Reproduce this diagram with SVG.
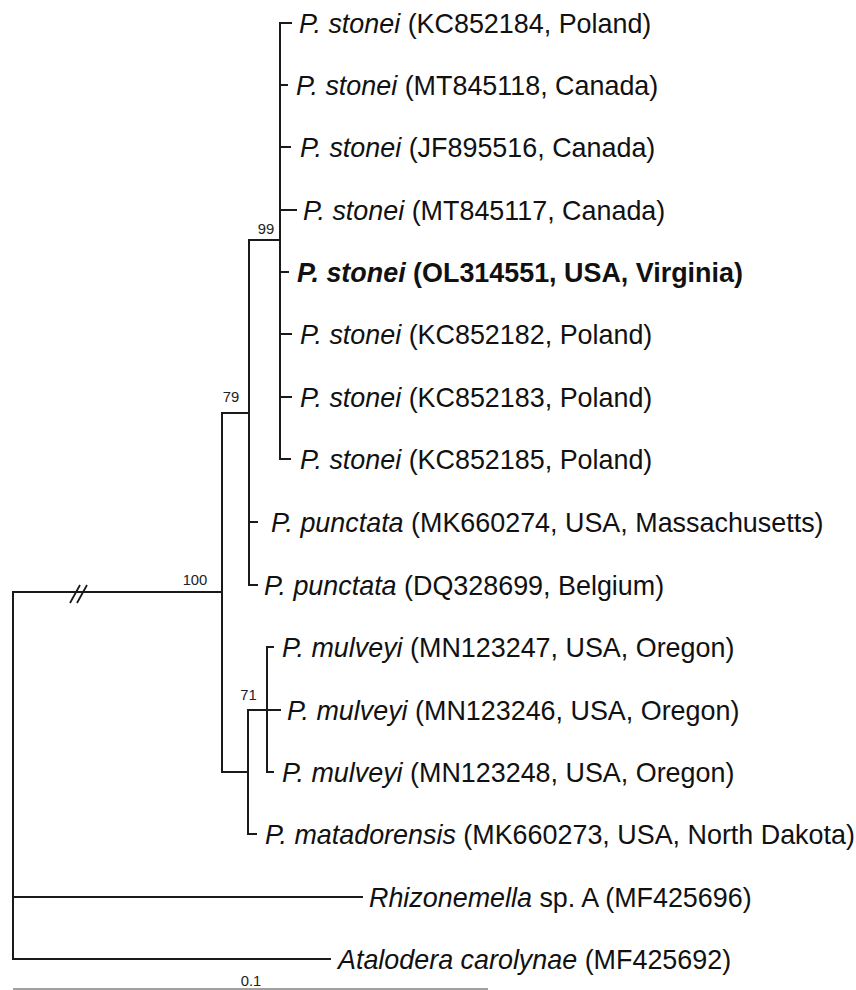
<svg xmlns="http://www.w3.org/2000/svg" width="856" height="990" viewBox="0 0 856 990">
<style>
.t{font-family:"Liberation Sans",Arial,sans-serif;font-size:26.9px;fill:#111}
.b{font-weight:bold}
.i{font-style:italic}
.s{font-family:"Liberation Sans",Arial,sans-serif;font-size:14.8px;fill:#222;text-anchor:middle}
.l{fill:none;stroke:#1a1a1a;stroke-width:2;stroke-linecap:square}
</style>
<rect width="856" height="990" fill="#fff"/>
<g id="connectors" class="l">
<path d="M291,23H280V459H290"/>
<path d="M280,85H287M280,147H290M280,210H296M280,272H288M280,334H291M280,397H291"/>
<path d="M249,240H280"/>
<path d="M257,522H249M249,240V585H257"/>
<path d="M222,413H249"/>
<path d="M273,647H267V772H273M248,710H280"/>
<path d="M248,710V834H256"/>
<path d="M222,772H248"/>
<path d="M222,413V772"/>
<path d="M13,592H222"/>
<path d="M13,592V959H330M13,897H362"/>
<path d="M70,603L80,585M77,603L87,585" stroke-linecap="butt" stroke-width="1.8"/>
<path d="M13,989H488" stroke-width="1.2" stroke="#444" stroke-linecap="butt"/>
</g>
<g id="leaf1"><text class="t" x="299" y="32.5"><tspan class="i">P. stonei</tspan> (KC852184, Poland)</text></g>
<g id="leaf2"><text class="t" x="296" y="94.5"><tspan class="i">P. stonei</tspan> (MT845118, Canada)</text></g>
<g id="leaf3"><text class="t" x="300" y="156.5"><tspan class="i">P. stonei</tspan> (JF895516, Canada)</text></g>
<g id="leaf4"><text class="t" x="303" y="219.5"><tspan class="i">P. stonei</tspan> (MT845117, Canada)</text></g>
<g id="leaf5"><text class="t b" x="297" y="281.5"><tspan class="i">P. stonei</tspan> (OL314551, USA, Virginia)</text></g>
<g id="leaf6"><text class="t" x="300" y="343.5"><tspan class="i">P. stonei</tspan> (KC852182, Poland)</text></g>
<g id="leaf7"><text class="t" x="300" y="406.5"><tspan class="i">P. stonei</tspan> (KC852183, Poland)</text></g>
<g id="leaf8"><text class="t" x="300" y="468.5"><tspan class="i">P. stonei</tspan> (KC852185, Poland)</text></g>
<g id="leaf9"><text class="t" x="271" y="531.5"><tspan class="i">P. punctata</tspan> (MK660274, USA, Massachusetts)</text></g>
<g id="leaf10"><text class="t" x="264" y="594.5"><tspan class="i">P. punctata</tspan> (DQ328699, Belgium)</text></g>
<g id="leaf11"><text class="t" x="282" y="656.5"><tspan class="i">P. mulveyi</tspan> (MN123247, USA, Oregon)</text></g>
<g id="leaf12"><text class="t" x="287" y="719.5"><tspan class="i">P. mulveyi</tspan> (MN123246, USA, Oregon)</text></g>
<g id="leaf13"><text class="t" x="282" y="781.5"><tspan class="i">P. mulveyi</tspan> (MN123248, USA, Oregon)</text></g>
<g id="leaf14"><text class="t" x="265" y="843.5"><tspan class="i">P. matadorensis</tspan> (MK660273, USA, North Dakota)</text></g>
<g id="leaf15"><text class="t" x="369" y="906.5"><tspan class="i">Rhizonemella</tspan> sp. A (MF425696)</text></g>
<g id="leaf16"><text class="t" x="338" y="968.5"><tspan class="i">Atalodera carolynae</tspan> (MF425692)</text></g>
<g id="node99"><text class="s" x="266" y="234">99</text></g>
<g id="node79"><text class="s" x="231" y="402">79</text></g>
<g id="node100"><text class="s" x="195" y="585">100</text></g>
<g id="node71"><text class="s" x="248.5" y="700">71</text></g>
<g id="scale"><text class="s" x="251" y="986">0.1</text></g>
</svg>
